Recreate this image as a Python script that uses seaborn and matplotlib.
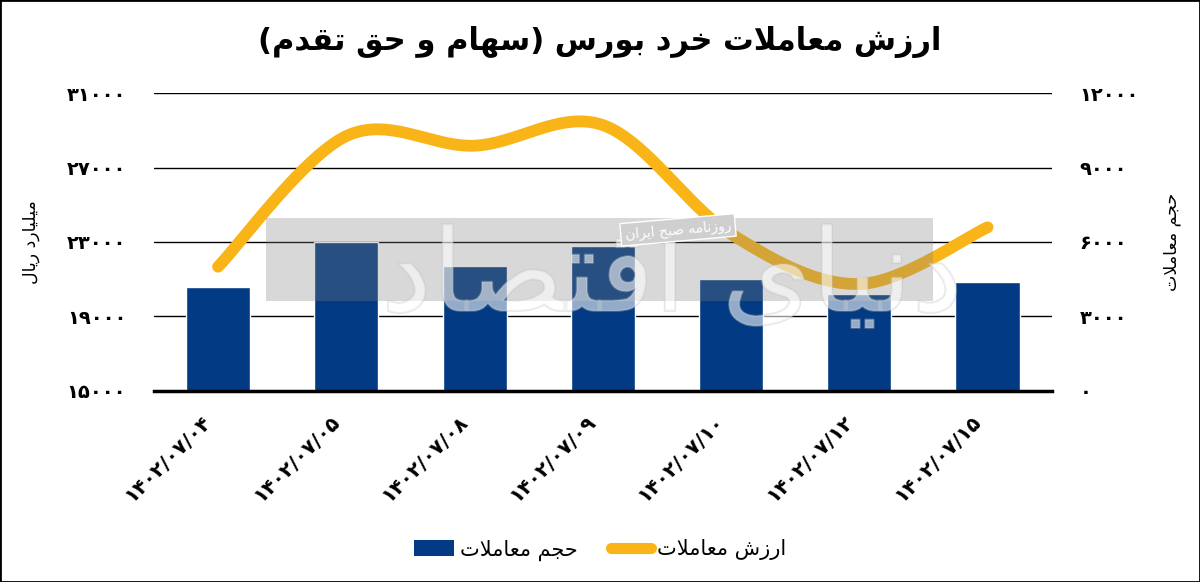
import numpy as np
import pandas as pd
import matplotlib
matplotlib.use("Agg")
import matplotlib.pyplot as plt
import matplotlib.patheffects as pe
import matplotlib.transforms as mtransforms
from matplotlib.patches import Rectangle
from matplotlib.lines import Line2D
from matplotlib.patches import Patch
import seaborn as sns

# ---------------- data ----------------
dates = ["۱۴۰۲/۰۷/۰۴", "۱۴۰۲/۰۷/۰۵", "۱۴۰۲/۰۷/۰۸", "۱۴۰۲/۰۷/۰۹",
         "۱۴۰۲/۰۷/۱۰", "۱۴۰۲/۰۷/۱۲", "۱۴۰۲/۰۷/۱۵"]
volume = [4170, 5990, 5030, 5850, 4495, 3900, 4385]          # حجم معاملات (right axis)
value = [21670, 28700, 28180, 29290, 23430, 20740, 23790]    # ارزش معاملات (left axis)
left_ticks = [15000, 19000, 23000, 27000, 31000]
right_ticks = [0, 3000, 6000, 9000, 12000]

title_txt = "ارزش معاملات خرد بورس (سهام و حق تقدم)"
left_label = "میلیارد ریال"
right_label = "حجم معاملات"
bar_name = "حجم معاملات"
line_name = "ارزش معاملات"

# ---------------- minimal Persian shaping ----------------
DUAL = {
    "ب": (0xFE8F, 0xFE90, 0xFE91, 0xFE92), "ت": (0xFE95, 0xFE96, 0xFE97, 0xFE98),
    "ج": (0xFE9D, 0xFE9E, 0xFE9F, 0xFEA0), "ح": (0xFEA1, 0xFEA2, 0xFEA3, 0xFEA4),
    "خ": (0xFEA5, 0xFEA6, 0xFEA7, 0xFEA8), "س": (0xFEB1, 0xFEB2, 0xFEB3, 0xFEB4),
    "ش": (0xFEB5, 0xFEB6, 0xFEB7, 0xFEB8), "ص": (0xFEB9, 0xFEBA, 0xFEBB, 0xFEBC),
    "ع": (0xFEC9, 0xFECA, 0xFECB, 0xFECC), "ق": (0xFED5, 0xFED6, 0xFED7, 0xFED8),
    "ل": (0xFEDD, 0xFEDE, 0xFEDF, 0xFEE0), "م": (0xFEE1, 0xFEE2, 0xFEE3, 0xFEE4),
    "ن": (0xFEE5, 0xFEE6, 0xFEE7, 0xFEE8), "ه": (0xFEE9, 0xFEEA, 0xFEEB, 0xFEEC),
    "ی": (0xFBFC, 0xFBFD, 0xFBFE, 0xFBFF),
}
RIGHT = {
    "ا": (0xFE8D, 0xFE8E), "د": (0xFEA9, 0xFEAA), "ر": (0xFEAD, 0xFEAE),
    "ز": (0xFEAF, 0xFEB0), "و": (0xFEED, 0xFEEE),
}


def shape(text):
    toks = []
    i = 0
    while i < len(text):
        if text[i] == "ل" and i + 1 < len(text) and text[i + 1] == "ا":
            toks.append("LA")
            i += 2
        else:
            toks.append(text[i])
            i += 1
    letters = set(DUAL) | set(RIGHT) | {"LA"}
    out = []
    for k, t in enumerate(toks):
        prev_c = k > 0 and toks[k - 1] in DUAL
        next_c = t in DUAL and k + 1 < len(toks) and toks[k + 1] in letters
        if t == "LA":
            out.append(chr(0xFEFC if prev_c else 0xFEFB))
        elif t in DUAL:
            iso, fin, ini, med = DUAL[t]
            if prev_c and next_c:
                out.append(chr(med))
            elif prev_c:
                out.append(chr(fin))
            elif next_c:
                out.append(chr(ini))
            else:
                out.append(chr(iso))
        elif t in RIGHT:
            iso, fin = RIGHT[t]
            out.append(chr(fin if prev_c else iso))
        else:
            out.append(t)
    s = "".join(reversed(out))
    return s.translate(str.maketrans({"(": ")", ")": "("}))


fa_digits = str.maketrans("0123456789", "۰۱۲۳۴۵۶۷۸۹")


def fa(n):
    return str(n).translate(fa_digits)


# ---------------- style ----------------
sns.set_style("white")
plt.rcParams["font.family"] = ["DejaVu Sans"]
plt.rcParams["text.color"] = "black"
plt.rcParams["axes.labelcolor"] = "black"
plt.rcParams["xtick.color"] = "black"
plt.rcParams["ytick.color"] = "black"

BAR_C = "#023b84"
LINE_C = "#f9b418"

fig = plt.figure(figsize=(12, 5.82), dpi=100)
ax = fig.add_axes([0.1283, 0.3287, 0.8764 - 0.1283, 0.8397 - 0.3287])

df = pd.DataFrame({"date": dates, "volume": volume, "value": value})
sns.barplot(data=df, x="date", y="volume", ax=ax, color=BAR_C, saturation=1,
            width=0.5, zorder=2)

# smooth line (Bezier through data points, like the spreadsheet's smoothed line)
ax2 = ax.twinx()
px = np.arange(len(value), dtype=float)
py = np.array(value, dtype=float)
P = np.column_stack([px, py])
Pe = np.vstack([P[0], P, P[-1]])
cx, cy = [], []
t = np.linspace(0, 1, 40)
for i in range(len(P) - 1):
    p0, p3 = Pe[i + 1], Pe[i + 2]
    c1 = p0 + (Pe[i + 2] - Pe[i]) / 6
    c2 = p3 - (Pe[i + 3] - Pe[i + 1]) / 6
    seg = ((1 - t) ** 3)[:, None] * p0 + (3 * (1 - t) ** 2 * t)[:, None] * c1 \
        + (3 * (1 - t) * t ** 2)[:, None] * c2 + (t ** 3)[:, None] * p3
    cx.extend(seg[:, 0])
    cy.extend(seg[:, 1])
sns.lineplot(x=cx, y=cy, ax=ax2, sort=False, estimator=None, color=LINE_C,
             linewidth=8.5, solid_capstyle="round", zorder=3)

# primary axis (bars) -> right side
ax.set_ylim(0, 12000)
ax.set_xlim(-0.5, len(dates) - 0.5)
ax.yaxis.tick_right()
ax.yaxis.set_label_position("right")
ax.set_yticks(right_ticks)
ax.set_yticklabels([fa(v) for v in right_ticks], fontsize=14, fontweight="bold")
ax.grid(axis="y", color="black", linewidth=1, zorder=0)
ax.set_axisbelow(True)
ax.tick_params(axis="y", which="both", left=False, right=False, length=0, pad=20)
ax.tick_params(axis="x", length=0, pad=20)
ax.set_xticks(range(len(dates)))
ax.set_xticklabels(dates, rotation=45, ha="right", va="center",
                   rotation_mode="anchor", fontsize=14.5, fontweight="bold")
off = mtransforms.ScaledTranslation(-10 / 100, 0, fig.dpi_scale_trans)
for lab in ax.get_xticklabels():
    lab.set_transform(lab.get_transform() + off)
ax.set_xlabel("")
ax.set_ylabel(shape(right_label), fontsize=12.5, rotation=90)
ax.yaxis.set_label_coords((1172 - 154) / 897.7, 0.5)
ax.yaxis.label.set_va("center")
ax.yaxis.label.set_ha("center")
for s in ["top", "left", "right"]:
    ax.spines[s].set_visible(False)
ax.spines["bottom"].set_linewidth(2.5)
ax.spines["bottom"].set_color("black")

# secondary axis (line) -> left side
ax2.set_ylim(15000, 31000)
ax2.yaxis.tick_left()
ax2.yaxis.set_label_position("left")
ax2.set_yticks(left_ticks)
ax2.set_yticklabels([fa(v) for v in left_ticks], fontsize=14, fontweight="bold")
ax2.tick_params(axis="y", which="both", left=False, right=False, length=0, pad=20)
ax2.set_ylabel(shape(left_label), fontsize=12.5, rotation=90)
ax2.yaxis.set_label_coords((31 - 154) / 897.7, 0.5)
ax2.yaxis.label.set_va("center")
ax2.yaxis.label.set_ha("center")
for s in ["top", "left", "right", "bottom"]:
    ax2.spines[s].set_visible(False)

# watermark
wm = Rectangle((266 / 1200, 1 - 301 / 582), (933 - 266) / 1200, (301 - 218) / 582,
               transform=fig.transFigure, facecolor="#808080", alpha=0.3,
               edgecolor="none", zorder=10)
fig.patches.append(wm)
fig.text(0.56, 0.52, shape("دنیای اقتصاد"), fontsize=82, color="white", alpha=0.35,
         ha="center", va="center", zorder=11,
         path_effects=[pe.withStroke(linewidth=1.5, foreground="#bdbdbd")])
fig.text(0.565, 0.605, shape("روزنامه صبح ایران"), fontsize=10, color="white",
         ha="center", va="center", rotation=5, zorder=12,
         bbox=dict(facecolor="#cfcfcf", edgecolor="white", linewidth=1, pad=3))

# title
fig.text(0.5, 1 - 42 / 582, shape(title_txt), fontsize=22, fontweight="bold",
         ha="center", va="center", color="black")

# legend
handles = [Patch(facecolor=BAR_C, edgecolor="none"),
           Line2D([0], [0], color=LINE_C, linewidth=8, solid_capstyle="round")]
leg = fig.legend(handles, [shape(bar_name), shape(line_name)], loc="center",
                 bbox_to_anchor=(0.5, 1 - 550 / 582), ncol=2, frameon=False,
                 fontsize=15, handlelength=1.9, handleheight=0.8, columnspacing=1.6,
                 handletextpad=0.3)
for txt in leg.get_texts():
    txt.set_color("black")

# frame
fig.patches.append(Rectangle((0, 0), 1, 1, transform=fig.transFigure, fill=False,
                             edgecolor="black", linewidth=2, zorder=20))

fig.savefig("out.png", dpi=100)
